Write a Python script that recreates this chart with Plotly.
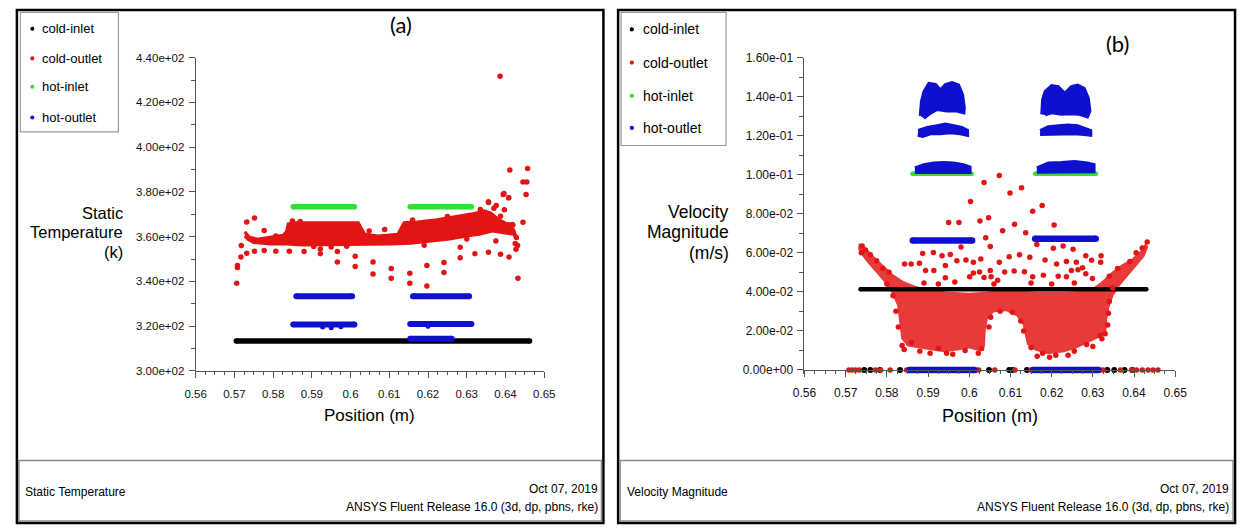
import plotly.graph_objects as go

W, H = 1249, 531

# ======================= DATA : panel (a) Static Temperature =======================
A_X_TICKS = [0.56, 0.57, 0.58, 0.59, 0.60, 0.61, 0.62, 0.63, 0.64, 0.65]
A_X_LABELS = ["0.56", "0.57", "0.58", "0.59", "0.6", "0.61", "0.62", "0.63", "0.64", "0.65"]
A_Y_TICKS = [300, 320, 340, 360, 380, 400, 420, 440]
A_Y_LABELS = ["3.00e+02", "3.20e+02", "3.40e+02", "3.60e+02", "3.80e+02", "4.00e+02", "4.20e+02", "4.40e+02"]

# dense point bands: start x, end x, level
A_COLD_INLET_X0 = [0.5705]
A_COLD_INLET_X1 = [0.6462]
A_COLD_INLET_Y = [313.3]

A_HOT_INLET_X0 = [0.5852, 0.6154]
A_HOT_INLET_X1 = [0.6010, 0.6312]
A_HOT_INLET_Y = [373.4, 373.4]

A_HOT_OUTLET_X0 = [0.5860, 0.6161, 0.5852, 0.6154, 0.6154]
A_HOT_OUTLET_X1 = [0.6004, 0.6306, 0.6010, 0.6312, 0.6261]
A_HOT_OUTLET_Y = [333.4, 333.4, 320.7, 321.0, 314.4]
A_HOT_OUTLET_PX = [0.5928, 0.5950, 0.5975, 0.6200]
A_HOT_OUTLET_PY = [319.6, 319.3, 319.7, 320.0]

# dense cold-outlet cloud outline
A_COLD_OUTLET_CLOUD_X = [0.5727, 0.5738, 0.5759, 0.5793, 0.5826, 0.5835, 0.5839, 0.5860, 0.5936, 0.6020,
                         0.6027, 0.6037, 0.6071, 0.6122, 0.6138, 0.6172, 0.6223, 0.6273, 0.6315, 0.6345,
                         0.6362, 0.6383, 0.6404, 0.6421, 0.6429,
                         0.6421, 0.6396, 0.6366, 0.6332, 0.6299, 0.6256, 0.6206, 0.6155, 0.6105, 0.6054,
                         0.6003, 0.5936, 0.5877, 0.5835, 0.5793, 0.5750, 0.5734, 0.5727]
A_COLD_OUTLET_CLOUD_Y = [362.2, 359.9, 358.9, 359.6, 360.6, 362.5, 365.7, 366.2, 366.2, 366.2,
                         364.0, 361.1, 360.3, 361.1, 366.2, 366.6, 367.6, 369.1, 370.2, 371.6,
                         370.5, 367.6, 365.7, 363.2, 358.9,
                         361.1, 361.8, 362.5, 361.1, 360.3, 358.9, 357.9, 357.0, 356.7, 356.7,
                         356.4, 356.4, 356.3, 356.7, 356.7, 357.4, 358.9, 360.3]
# scattered cold-outlet points
A_COLD_OUTLET_X = [0.5706, 0.5708, 0.5708, 0.5717, 0.5718, 0.5732, 0.5732, 0.5752, 0.5752, 0.5777,
                   0.5777, 0.5807, 0.5807, 0.5842, 0.5880, 0.5922, 0.5922, 0.5966, 0.5966, 0.6012,
                   0.6012, 0.6048, 0.6058, 0.6058, 0.6088, 0.6105, 0.6105, 0.6153, 0.6153, 0.6197,
                   0.6197, 0.6241, 0.6241, 0.6283, 0.6283, 0.6321, 0.6356, 0.6356, 0.6370, 0.6375,
                   0.6376, 0.6387, 0.6387, 0.6396, 0.6397, 0.6408, 0.6408, 0.6409, 0.6419, 0.6425,
                   0.6427, 0.6432, 0.6386, 0.6411, 0.6457, 0.6445, 0.6455, 0.6453, 0.6394, 0.6408,
                   0.6356, 0.6445, 0.6417, 0.6428, 0.6431,
                   0.5850, 0.5870, 0.5905, 0.5950, 0.5990, 0.6160, 0.6190, 0.6250, 0.6300, 0.6335]
A_COLD_OUTLET_Y = [339.2, 346.2, 347.1, 350.9, 356.0, 352.6, 366.6, 368.4, 353.5, 362.8,
                   353.8, 360.3, 353.5, 353.5, 353.4, 354.5, 352.4, 353.4, 348.7, 351.2,
                   346.7, 362.5, 348.7, 343.3, 363.2, 345.8, 341.4, 343.6, 339.2, 347.1,
                   338.0, 348.4, 344.0, 355.3, 350.6, 352.4, 353.0, 375.3, 372.7, 358.1,
                   373.9, 369.1, 352.1, 379.3, 372.0, 377.4, 365.3, 350.9, 365.2, 357.0,
                   354.4, 341.4, 431.7, 389.8, 390.5, 384.4, 384.4, 378.8, 378.8, 377.4,
                   375.6, 366.5, 365.4, 359.6, 356.0,
                   367.0, 366.8, 355.6, 355.4, 355.7, 367.4, 356.2, 369.0, 359.0, 372.2]

# ======================= DATA : panel (b) Velocity Magnitude =======================
B_X_TICKS = A_X_TICKS
B_X_LABELS = A_X_LABELS
B_Y_TICKS = [0.0, 0.02, 0.04, 0.06, 0.08, 0.10, 0.12, 0.14, 0.16]
B_Y_LABELS = ["0.00e+00", "2.00e-02", "4.00e-02", "6.00e-02", "8.00e-02", "1.00e-01", "1.20e-01", "1.40e-01", "1.60e-01"]

B_COLD_INLET_X0 = [0.5736]
B_COLD_INLET_X1 = [0.6430]
B_COLD_INLET_Y = [0.0413]
B_COLD_INLET_PX = [0.5745, 0.5760, 0.5783, 0.5832, 0.6048, 0.6097, 0.6105, 0.6140, 0.6335, 0.6352, 0.6377, 0.6396]
B_COLD_INLET_PY = [0.0, 0.0, 0.0, 0.0, 0.0, 0.0, 0.0, 0.0, 0.0, 0.0, 0.0, 0.0]

B_HOT_INLET_X0 = [0.5862, 0.6160]
B_HOT_INLET_X1 = [0.6006, 0.6308]
B_HOT_INLET_Y = [0.1005, 0.1005]

B_HOT_OUTLET_X0 = [0.5863, 0.6160, 0.5855, 0.6155]
B_HOT_OUTLET_X1 = [0.6007, 0.6307, 0.6012, 0.6313]
B_HOT_OUTLET_Y = [0.0663, 0.0672, 0.0, 0.0]

# dense hot-outlet clusters (outlines, None separates clusters)
B_HOT_OUTLET_CLOUD_X = [
    0.5881, 0.5884, 0.5890, 0.5902, 0.5918, 0.5930, 0.5942, 0.5958, 0.5974, 0.5984, 0.5988, 0.5987,
    0.5970, 0.5946, 0.5922, 0.5902, 0.5890, None,
    0.5876, 0.5898, 0.5922, 0.5942, 0.5962, 0.5982, 0.5996, 0.5996, 0.5978, 0.5954, 0.5930, 0.5906,
    0.5887, 0.5875, None,
    0.5868, 0.5890, 0.5914, 0.5938, 0.5962, 0.5986, 0.6002, 0.6002, 0.5868, None,
    0.6176, 0.6178, 0.6184, 0.6200, 0.6216, 0.6232, 0.6248, 0.6263, 0.6279, 0.6289, 0.6293, 0.6287,
    0.6267, 0.6244, 0.6224, 0.6200, 0.6184, None,
    0.6172, 0.6192, 0.6216, 0.6240, 0.6263, 0.6283, 0.6295, 0.6295, 0.6279, 0.6256, 0.6232, 0.6208,
    0.6184, 0.6172, None,
    0.6164, 0.6192, 0.6224, 0.6256, 0.6287, 0.6303, 0.6303, 0.6164]
B_HOT_OUTLET_CLOUD_Y = [
    0.1302, 0.1377, 0.1427, 0.1468, 0.1463, 0.1435, 0.1463, 0.1473, 0.1460, 0.1410, 0.1343, 0.1318,
    0.1327, 0.1327, 0.1335, 0.1310, 0.1290, None,
    0.1227, 0.1243, 0.1252, 0.1260, 0.1252, 0.1243, 0.1227, 0.1202, 0.1210, 0.1215, 0.1210, 0.1210,
    0.1197, 0.1202, None,
    0.1035, 0.1052, 0.1060, 0.1063, 0.1060, 0.1052, 0.1040, 0.1012, 0.1012, None,
    0.1310, 0.1385, 0.1427, 0.1457, 0.1452, 0.1418, 0.1452, 0.1460, 0.1443, 0.1393, 0.1327, 0.1297,
    0.1310, 0.1313, 0.1310, 0.1318, 0.1307, None,
    0.1227, 0.1247, 0.1252, 0.1255, 0.1252, 0.1235, 0.1227, 0.1202, 0.1207, 0.1210, 0.1210, 0.1210,
    0.1207, 0.1207, None,
    0.1035, 0.1060, 0.1063, 0.1068, 0.1060, 0.1052, 0.1016, 0.1013]

# envelope of the dense cold-outlet cloud
B_COLD_OUTLET_CLOUD_X = [0.5732, 0.5750, 0.5770, 0.5795, 0.5815, 0.5840, 0.5870, 0.5910, 0.5950, 0.6000,
                         0.6040, 0.6080, 0.6120, 0.6170, 0.6220, 0.6270, 0.6300, 0.6320, 0.6345, 0.6370,
                         0.6395, 0.6415, 0.6428, 0.6435, 0.6425, 0.6405, 0.6385, 0.6365, 0.6350, 0.6340,
                         0.6335, 0.6333, 0.6320, 0.6290, 0.6260, 0.6230, 0.6190, 0.6160, 0.6140, 0.6135,
                         0.6130, 0.6115, 0.6090, 0.6060, 0.6045, 0.6040, 0.6038, 0.6025, 0.6000, 0.5970,
                         0.5940, 0.5910, 0.5880, 0.5850, 0.5835, 0.5830, 0.5825, 0.5810, 0.5790, 0.5765,
                         0.5745, 0.5730]
B_COLD_OUTLET_CLOUD_Y = [0.0650, 0.0625, 0.0580, 0.0530, 0.0490, 0.0455, 0.0430, 0.0410, 0.0400, 0.0395,
                         0.0400, 0.0410, 0.0405, 0.0400, 0.0400, 0.0405, 0.0420, 0.0450, 0.0500, 0.0540,
                         0.0570, 0.0610, 0.0650, 0.0630, 0.0580, 0.0530, 0.0480, 0.0430, 0.0380, 0.0320,
                         0.0260, 0.0200, 0.0170, 0.0140, 0.0110, 0.0090, 0.0080, 0.0100, 0.0130, 0.0180,
                         0.0230, 0.0275, 0.0300, 0.0295, 0.0260, 0.0200, 0.0120, 0.0095, 0.0110, 0.0100,
                         0.0090, 0.0100, 0.0110, 0.0120, 0.0160, 0.0250, 0.0330, 0.0400, 0.0460, 0.0520,
                         0.0570, 0.0620]
B_COLD_OUTLET_X = [0.6036, 0.6003, 0.6047, 0.6026, 0.5950, 0.5975, 0.6040, 0.5980, 0.5887, 0.5913,
                   0.6051, 0.5934, 0.5954, 0.5992, 0.6010, 0.6028, 0.5843, 0.5859, 0.5879, 0.5894,
                   0.5914, 0.5942, 0.5970, 0.6010, 0.6025, 0.5942, 0.6001, 0.6051, 0.6036,
                   0.6073, 0.6099, 0.6127, 0.6154, 0.6177, 0.6110, 0.6081, 0.6137, 0.6206, 0.6164,
                   0.6204, 0.6228, 0.6252, 0.6283, 0.6297, 0.6097, 0.6122, 0.6147, 0.6073, 0.6184,
                   0.6212, 0.6236, 0.6260, 0.6275, 0.6320, 0.6319, 0.6086, 0.6109, 0.6134, 0.6154,
                   0.6180, 0.6216, 0.6236, 0.6248, 0.6264, 0.6283, 0.6299, 0.6053, 0.6069,
                   0.5890, 0.5925, 0.5965, 0.6060, 0.6150, 0.6200, 0.6255,
                   0.5837, 0.5905, 0.5960, 0.6022, 0.6165, 0.6195, 0.6240, 0.6300, 0.6322, 0.6330,
                   0.5740, 0.5748,
                   0.5842, 0.5860, 0.5880, 0.5925, 0.5945, 0.5990, 0.6030, 0.6150, 0.6178, 0.6210,
                   0.6255, 0.6285, 0.6318, 0.5738, 0.5760, 0.5775, 0.5790, 0.5805, 0.5800, 0.5815,
                   0.5822, 0.5828, 0.6432, 0.6420, 0.6405, 0.6390, 0.6360, 0.6340, 0.6348, 0.6340,
                   0.6338, 0.6336, 0.6048, 0.6052, 0.6075, 0.6105, 0.6125, 0.6132,
                   0.5708, 0.5716, 0.5724, 0.5733, 0.5772, 0.5785, 0.5808, 0.5848, 0.6016, 0.6023,
                   0.6062, 0.6111, 0.6150, 0.6310, 0.6318, 0.6325, 0.6367, 0.6394, 0.6406, 0.6420,
                   0.6434, 0.6446, 0.6458]
B_COLD_OUTLET_Y = [0.0960, 0.0863, 0.0780, 0.0763, 0.0755, 0.0755, 0.0677, 0.0630, 0.0597, 0.0602,
                   0.0633, 0.0585, 0.0592, 0.0563, 0.0552, 0.0568, 0.0543, 0.0543, 0.0547, 0.0510,
                   0.0510, 0.0535, 0.0560, 0.0497, 0.0502, 0.0472, 0.0477, 0.0510, 0.0473,
                   0.0997, 0.0907, 0.0933, 0.0813, 0.0843, 0.0747, 0.0713, 0.0703, 0.0743, 0.0643,
                   0.0623, 0.0635, 0.0618, 0.0585, 0.0562, 0.0580, 0.0590, 0.0577, 0.0552, 0.0563,
                   0.0543, 0.0555, 0.0552, 0.0523, 0.0585, 0.0552, 0.0502, 0.0507, 0.0503, 0.0477,
                   0.0485, 0.0480, 0.0477, 0.0510, 0.0513, 0.0493, 0.0468, 0.0477, 0.0460,
                   0.0445, 0.0440, 0.0450, 0.0440, 0.0445, 0.0440, 0.0445,
                   0.0125, 0.0085, 0.0080, 0.0085, 0.0070, 0.0065, 0.0075, 0.0120, 0.0160, 0.0185,
                   0.0635, 0.0615,
                   0.0105, 0.0140, 0.0095, 0.0110, 0.0085, 0.0100, 0.0110, 0.0115, 0.0085, 0.0075,
                   0.0095, 0.0130, 0.0175, 0.0600, 0.0590, 0.0560, 0.0520, 0.0500, 0.0440, 0.0380,
                   0.0300, 0.0220, 0.0655, 0.0625, 0.0600, 0.0555, 0.0520, 0.0480, 0.0420, 0.0350,
                   0.0290, 0.0230, 0.0220, 0.0270, 0.0300, 0.0295, 0.0250, 0.0200,
                   0.0, 0.0, 0.0, 0.0, 0.0, 0.0, 0.0, 0.0, 0.0, 0.0,
                   0.0, 0.0, 0.0, 0.0, 0.0, 0.0, 0.0, 0.0, 0.0, 0.0,
                   0.0, 0.0, 0.0]

SERIES = ["cold-inlet", "cold-outlet", "hot-inlet", "hot-outlet"]
COLORS = {"cold-inlet": "#000000", "cold-outlet": "#e31414", "hot-inlet": "#35dd35", "hot-outlet": "#0f10cf"}

# ======================= FIGURE =======================
FONT = "Liberation Sans, Arial, sans-serif"


def px(x):
    return x / W


def py(y):
    return 1 - y / H


def band(x0s, x1s, ys):
    xs, yy = [], []
    for a, b, y in zip(x0s, x1s, ys):
        xs += [a, b, None]
        yy += [y, y, None]
    return xs, yy


fig = go.Figure()


def add_band(x0s, x1s, ys, color, width, xa, ya):
    xs, yy = band(x0s, x1s, ys)
    fig.add_trace(go.Scatter(x=xs, y=yy, mode="lines+markers", xaxis=xa, yaxis=ya,
                             line=dict(color=color, width=width),
                             marker=dict(color=color, size=width),
                             cliponaxis=False, showlegend=False, hoverinfo="skip"))


def add_cloud(xs, ys, color, fill, lw, xa, ya):
    fig.add_trace(go.Scatter(x=xs, y=ys, mode="lines", fill="toself", fillcolor=fill,
                             line=dict(color=color, width=lw), xaxis=xa, yaxis=ya,
                             showlegend=False, hoverinfo="skip"))


def add_points(xs, ys, color, size, xa, ya):
    fig.add_trace(go.Scatter(x=xs, y=ys, mode="markers", xaxis=xa, yaxis=ya,
                             marker=dict(color=color, size=size), cliponaxis=False,
                             showlegend=False, hoverinfo="skip"))


# ---- panel (a)
add_band(A_COLD_INLET_X0, A_COLD_INLET_X1, A_COLD_INLET_Y, COLORS["cold-inlet"], 5.5, "x", "y")
add_cloud(A_COLD_OUTLET_CLOUD_X, A_COLD_OUTLET_CLOUD_Y, COLORS["cold-outlet"], COLORS["cold-outlet"], 3, "x", "y")
add_points(A_COLD_OUTLET_X, A_COLD_OUTLET_Y, COLORS["cold-outlet"], 5.5, "x", "y")
add_band(A_HOT_INLET_X0, A_HOT_INLET_X1, A_HOT_INLET_Y, COLORS["hot-inlet"], 5.5, "x", "y")
add_band(A_HOT_OUTLET_X0, A_HOT_OUTLET_X1, A_HOT_OUTLET_Y, COLORS["hot-outlet"], 6, "x", "y")
add_points(A_HOT_OUTLET_PX, A_HOT_OUTLET_PY, COLORS["hot-outlet"], 5, "x", "y")

# ---- panel (b)
add_cloud(B_COLD_OUTLET_CLOUD_X, B_COLD_OUTLET_CLOUD_Y, "rgba(0,0,0,0)", "rgba(228,20,20,0.84)", 0, "x2", "y2")
add_band(B_COLD_INLET_X0, B_COLD_INLET_X1, B_COLD_INLET_Y, COLORS["cold-inlet"], 4.5, "x2", "y2")
add_points(B_COLD_INLET_PX, B_COLD_INLET_PY, COLORS["cold-inlet"], 6, "x2", "y2")
add_points(B_COLD_OUTLET_X, B_COLD_OUTLET_Y, COLORS["cold-outlet"], 5.5, "x2", "y2")
add_band(B_HOT_INLET_X0, B_HOT_INLET_X1, B_HOT_INLET_Y, COLORS["hot-inlet"], 4.5, "x2", "y2")
add_cloud(B_HOT_OUTLET_CLOUD_X, B_HOT_OUTLET_CLOUD_Y, COLORS["hot-outlet"], COLORS["hot-outlet"], 3, "x2", "y2")
add_band(B_HOT_OUTLET_X0, B_HOT_OUTLET_X1, B_HOT_OUTLET_Y, COLORS["hot-outlet"], 6.5, "x2", "y2")

AX_COLOR = "#555555"
axis_common = dict(showgrid=False, zeroline=False, showline=True, linecolor=AX_COLOR, linewidth=1,
                   ticks="outside", ticklen=6, tickcolor=AX_COLOR, tickwidth=1, tickmode="array")

fig.update_layout(
    width=W, height=H, autosize=False, margin=dict(l=0, r=0, t=0, b=0),
    paper_bgcolor="white", plot_bgcolor="rgba(0,0,0,0)", showlegend=False,
    font=dict(family=FONT, color="#000"),
    xaxis=dict(axis_common, domain=[px(187.2), px(542.7)], range=[0.56, 0.65], anchor="y",
               tickvals=A_X_TICKS, ticktext=A_X_LABELS, tickfont=dict(family=FONT, size=11.5, color="#111"),
               ticklabelstandoff=6,
               minor=dict(dtick=0.0025, tick0=0.56, ticks="outside", ticklen=3, tickcolor=AX_COLOR)),
    yaxis=dict(axis_common, domain=[py(373), py(52)], range=[300, 440], anchor="x",
               tickvals=A_Y_TICKS, ticktext=A_Y_LABELS, tickfont=dict(family=FONT, size=11.5, color="#111"),
               ticklabelstandoff=2,
               minor=dict(dtick=10, tick0=300, ticks="outside", ticklen=4, tickcolor=AX_COLOR)),
    xaxis2=dict(axis_common, domain=[px(808), px(1186)], range=[0.56, 0.65], anchor="free", position=py(372),
                tickvals=B_X_TICKS, ticktext=B_X_LABELS, tickfont=dict(family=FONT, size=12, color="#111"),
                ticklabelstandoff=6,
                minor=dict(dtick=0.0025, tick0=0.56, ticks="outside", ticklen=3, tickcolor=AX_COLOR)),
    yaxis2=dict(axis_common, domain=[py(376), py(52)], range=[-0.002, 0.16], anchor="x2",
                tickvals=B_Y_TICKS, ticktext=B_Y_LABELS, tickfont=dict(family=FONT, size=12, color="#111"),
                ticklabelstandoff=2,
                minor=dict(dtick=0.01, tick0=0, ticks="outside", ticklen=4, tickcolor=AX_COLOR)),
)

shapes = []
annotations = []


def rect(x0, y0, x1, y1, color, width):
    shapes.append(dict(type="rect", xref="paper", yref="paper", x0=px(x0), x1=px(x1), y0=py(y1), y1=py(y0),
                       line=dict(color=color, width=width), fillcolor="rgba(0,0,0,0)", layer="above"))


def text(x, y, s, size, anchor="left", family=FONT, color="#000"):
    annotations.append(dict(x=px(x), y=py(y), xref="paper", yref="paper", text=s, showarrow=False,
                            xanchor=anchor, yanchor="middle", borderpad=0,
                            font=dict(family=family, size=size, color=color)))


def dot(x, y, r, color):
    shapes.append(dict(type="circle", xref="paper", yref="paper", x0=px(x - r), x1=px(x + r),
                       y0=py(y + r), y1=py(y - r), fillcolor=color, line=dict(width=0), layer="above"))


# panel borders + footers
rect(5, 3, 603, 529, "#000", 2.5)
rect(618, 3, 1247, 529, "#000", 2.5)
rect(7, 465, 601, 527, "#8a8a8a", 1.5)
rect(620, 465, 1245, 527, "#8a8a8a", 1.5)

# legends
rect(8.5, 5.5, 108.5, 128, "#9a9a9a", 1.2)
for s, yy in zip(SERIES, [22.3, 52.7, 81.7, 113.3]):
    dot(20.7, yy, 2.1, COLORS[s])
    text(29.5, yy, s, 13)
rect(621, 5.5, 728, 142, "#9a9a9a", 1.2)
for s, yy in zip(SERIES, [23, 57, 91, 124]):
    dot(632, yy, 2.2, COLORS[s])
    text(642.5, yy, s, 14)

# axis titles (one text per line, spaced so the boxes do not touch)
for s, yy in zip(["Static", "Temperature", "(k)"], [211, 231, 251]):
    text(114, yy, s, 16.5, anchor="right")
for s, yy in zip(["Velocity", "Magnitude", "(m/s)"], [210, 231, 252]):
    text(732, yy, s, 17.5, anchor="right")
text(365, 419, "Position (m)", 17, anchor="center")
text(997, 419, "Position (m)", 18, anchor="center")

# panel tags
text(397, 18, "(a)", 22, anchor="center", family="Lato, Open Sans, sans-serif")
text(1127, 37, "(b)", 22, anchor="center", family="Lato, Open Sans, sans-serif")

# footers
text(12, 497, "Static Temperature", 12)
text(598, 494, "Oct 07, 2019", 12, anchor="right")
text(598, 513, "ANSYS Fluent Release 16.0 (3d, dp, pbns, rke)", 12, anchor="right")
text(626, 497, "Velocity Magnitude", 12)
text(1242, 494, "Oct 07, 2019", 12, anchor="right")
text(1242, 513, "ANSYS Fluent Release 16.0 (3d, dp, pbns, rke)", 12, anchor="right")

fig.update_layout(shapes=shapes, annotations=annotations)
fig.write_html("out.html")
